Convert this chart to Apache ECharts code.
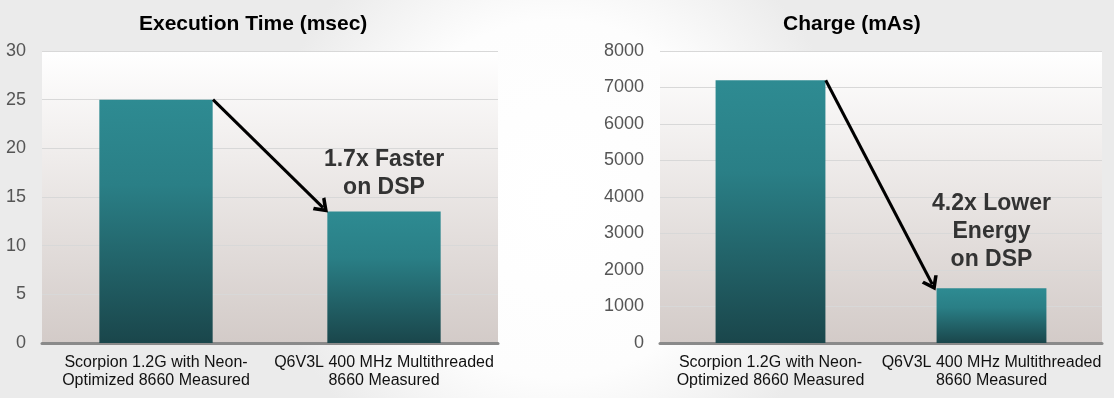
<!DOCTYPE html>
<html>
<head>
<meta charset="utf-8">
<script src="https://cdn.jsdelivr.net/npm/echarts@6/dist/echarts.min.js"></script>
<style>
  html, body { margin: 0; padding: 0; background: #fff; }
  #chart { width: 1114px; height: 398px; }
</style>
</head>
<body>
<div id="chart"></div>
<script>
const categories = ['Scorpion 1.2G with Neon-\nOptimized 8660 Measured', 'Q6V3L 400 MHz Multithreaded\n8660 Measured'];
const timeValues = [25, 13.5];
const chargeValues = [7200, 1500];
const timeAxis = [0, 30, 5];      // min, max, interval
const chargeAxis = [0, 8000, 1000];
const titles = ['Execution Time (msec)', 'Charge (mAs)'];
const notes = ['1.7x Faster\non DSP', '4.2x Lower\nEnergy\non DSP'];

const chart = echarts.init(document.getElementById('chart'));

const barColor = new echarts.graphic.LinearGradient(0, 0, 0, 1, [
    { offset: 0, color: '#2e8b92' },
    { offset: 0.35, color: '#2a7f86' },
    { offset: 1, color: '#1a464b' }
]);
const plotBg = new echarts.graphic.LinearGradient(0, 0, 0, 1, [
    { offset: 0, color: '#ffffff' },
    { offset: 1, color: '#d3cbc8' }
]);

const grids = [
    { left: 42, top: 51, width: 456, height: 292 },
    { left: 660, top: 51, width: 442, height: 292 }
];

const xAxisFor = (i) => ({
    type: 'category',
    gridIndex: i,
    data: categories,
    axisTick: { show: false },
    axisLine: { lineStyle: { color: '#8a8a8a', width: 3 } },
    axisLabel: {
        interval: 0,
        margin: 11,
        fontSize: 16,
        lineHeight: 18,
        color: '#111',
        fontFamily: 'Liberation Sans'
    }
});

const yAxisFor = (i, range) => ({
    type: 'value',
    gridIndex: i,
    min: range[0],
    max: range[1],
    interval: range[2],
    axisLine: { show: false },
    axisTick: { show: false },
    axisLabel: {
        fontSize: 18,
        color: '#555',
        margin: 16,
        fontFamily: 'Liberation Sans',
        formatter: (v) => String(v)
    },
    splitLine: { lineStyle: { color: '#d8d8d8', width: 1 } }
});

const seriesFor = (i, values, note, dist) => ({
    type: 'bar',
    xAxisIndex: i,
    yAxisIndex: i,
    barWidth: '49.7%',
    itemStyle: { color: barColor },
    data: values.map((v, k) => k === 1 ? {
        value: v,
        label: {
            show: true,
            position: 'top',
            distance: dist,
            formatter: note,
            fontSize: 23,
            fontWeight: 'bold',
            lineHeight: 28,
            color: '#333',
            fontFamily: 'Liberation Sans'
        }
    } : v)
});

const titleStyle = { fontSize: 21, fontWeight: 'bold', color: '#000', fontFamily: 'Liberation Sans' };

chart.setOption({
    animation: false,
    backgroundColor: new echarts.graphic.RadialGradient(0.5, 0.5, 0.75, [
        { offset: 0, color: '#ffffff' },
        { offset: 0.6, color: '#fdfdfd' },
        { offset: 1, color: '#ebebeb' }
    ]),
    title: [
        { text: titles[0], left: 139, top: 14, padding: 0, textStyle: titleStyle },
        { text: titles[1], left: 783, top: 14, padding: 0, textStyle: titleStyle }
    ],
    grid: grids.map(g => Object.assign({ show: true, backgroundColor: plotBg, borderWidth: 0 }, g)),
    xAxis: [xAxisFor(0), xAxisFor(1)],
    yAxis: [yAxisFor(0, timeAxis), yAxisFor(1, chargeAxis)],
    series: [
        seriesFor(0, timeValues, notes[0], 10),
        seriesFor(1, chargeValues, notes[1], 15)
    ]
});

// arrows from the top-right corner of the first bar to the top-left of the second
const arrowFor = (gridIndex, values) => {
    const p0 = chart.convertToPixel({ gridIndex: gridIndex }, [0, values[0]]);
    const p1 = chart.convertToPixel({ gridIndex: gridIndex }, [1, values[1]]);
    const half = (p1[0] - p0[0]) * 0.25;
    return {
        silent: true,
        animation: false,
        symbol: ['none', 'path://M0,12 L10,0 L20,12 L16.5,13.5 L10,6 L3.5,13.5 Z'],
        symbolSize: [18, 14],
        label: { show: false },
        lineStyle: { color: '#000', width: 3, type: 'solid' },
        data: [[{ x: p0[0] + half, y: p0[1] }, { x: p1[0] - half - 4, y: p1[1] - 4 }]]
    };
};

chart.setOption({
    series: [
        { markLine: arrowFor(0, timeValues) },
        { markLine: arrowFor(1, chargeValues) }
    ]
});
</script>
</body>
</html>
